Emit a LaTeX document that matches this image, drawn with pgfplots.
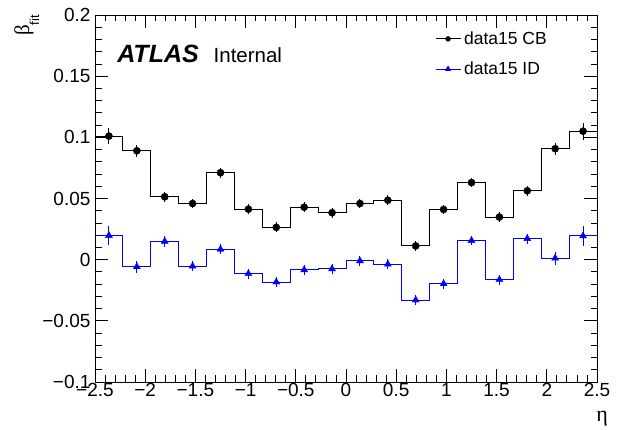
\documentclass[border=0pt]{standalone}
\usepackage{pgfplots}
\usepackage{pgfplotstable}
\pgfplotsset{compat=1.18}
\usepackage{fontspec}
\setmainfont{Liberation Sans}
\newfontfamily\grk{Liberation Serif}

% bin centres, values, errors
\pgfplotstableread{
x y e
-2.3611 0.1010 0.0065
-2.0833 0.0890 0.0050
-1.8056 0.0514 0.0042
-1.5278 0.0459 0.0040
-1.2500 0.0711 0.0040
-0.9722 0.0413 0.0040
-0.6944 0.0264 0.0040
-0.4167 0.0429 0.0040
-0.1389 0.0384 0.0040
0.1389 0.0459 0.0040
0.4167 0.0486 0.0040
0.6944 0.0112 0.0040
0.9722 0.0410 0.0040
1.2500 0.0630 0.0040
1.5278 0.0348 0.0040
1.8056 0.0563 0.0040
2.0833 0.0907 0.0050
2.3611 0.1050 0.0068
}\cbpts

\pgfplotstableread{
x y
-2.5000 0.1010
-2.2222 0.0890
-1.9444 0.0514
-1.6667 0.0459
-1.3889 0.0711
-1.1111 0.0413
-0.8333 0.0264
-0.5556 0.0429
-0.2778 0.0384
0.0000 0.0459
0.2778 0.0486
0.5556 0.0112
0.8333 0.0410
1.1111 0.0630
1.3889 0.0348
1.6667 0.0563
1.9444 0.0907
2.2222 0.1050
2.5000 0.1050
}\cbline

\pgfplotstableread{
x y e
-2.3611 0.0197 0.0080
-2.0833 -0.0058 0.0047
-1.8056 0.0150 0.0047
-1.5278 -0.0053 0.0040
-1.2500 0.0085 0.0040
-0.9722 -0.0115 0.0040
-0.6944 -0.0183 0.0040
-0.4167 -0.0083 0.0040
-0.1389 -0.0075 0.0040
0.1389 -0.0010 0.0040
0.4167 -0.0037 0.0040
0.6944 -0.0330 0.0040
0.9722 -0.0197 0.0040
1.2500 0.0156 0.0040
1.5278 -0.0164 0.0040
1.8056 0.0172 0.0040
2.0833 0.0012 0.0054
2.3611 0.0194 0.0085
}\idpts

\pgfplotstableread{
x y
-2.5000 0.0197
-2.2222 -0.0058
-1.9444 0.0150
-1.6667 -0.0053
-1.3889 0.0085
-1.1111 -0.0115
-0.8333 -0.0183
-0.5556 -0.0083
-0.2778 -0.0075
0.0000 -0.0010
0.2778 -0.0037
0.5556 -0.0330
0.8333 -0.0197
1.1111 0.0156
1.3889 -0.0164
1.6667 0.0172
1.9444 0.0012
2.2222 0.0194
2.5000 0.0194
}\idline

\begin{document}
\begin{tikzpicture}
\useasboundingbox (0,0) rectangle (624pt,430pt);
\begin{axis}[
  at={(95pt,48pt)}, anchor=south west,
  scale only axis, width=502pt, height=367pt,
  xmin=-2.5, xmax=2.5, ymin=-0.1, ymax=0.2,
  xtick={-2.5,-2,-1.5,-1,-0.5,0,0.5,1,1.5,2,2.5},
  xticklabels={−2.5,−2,−1.5,−1,−0.5,0,0.5,1,1.5,2,2.5},
  ytick={-0.1,-0.05,0,0.05,0.1,0.15,0.2},
  yticklabels={−0.1,−0.05,0,0.05,0.1,0.15,0.2},
  minor x tick num=4, minor y tick num=4,
  tick align=inside, tick pos=both,
  major tick length=13pt, minor tick length=6.5pt,
  tick style={black, line width=0.8pt},
  axis line style={line width=0.8pt},
  ticklabel style={font=\fontsize{19}{22}\selectfont},
  xticklabel style={yshift=2pt},
  yticklabel style={xshift=-1pt},
  legend style={draw=none, fill=none, at={(rel axis cs:0.677,0.963)}, anchor=north west,
    font=\fontsize{17.5}{21}\selectfont, row sep=10pt, inner sep=0pt,
    nodes={inner sep=3pt}},
  legend cell align=left,
  legend image code/.code={\draw[mark repeat=2,mark phase=2,#1] plot coordinates {(0pt,0pt) (12.5pt,0pt) (25pt,0pt)};},
]
\addlegendimage{black, line width=1pt, mark=*, mark size=2.2pt}
\addlegendentry{data15 CB}
\addlegendimage{blue, line width=1pt, mark=triangle*, mark size=2.6pt}
\addlegendentry{data15 ID}

\addplot[forget plot, const plot mark left, black, line width=1pt] table[x=x,y=y] {\cbline};
\addplot[forget plot, only marks, black, mark=*, mark size=3.6pt,
  error bars/.cd, y dir=both, y explicit, error mark=none,
  error bar style={line width=1pt}] table[x=x,y=y,y error=e] {\cbpts};

\addplot[forget plot, const plot mark left, blue, line width=1pt] table[x=x,y=y] {\idline};
\addplot[forget plot, only marks, blue, mark=triangle*, mark size=4pt,
  error bars/.cd, y dir=both, y explicit, error mark=none,
  error bar style={line width=1pt}] table[x=x,y=y,y error=e] {\idpts};

\node[anchor=base west, inner sep=0pt, font=\fontsize{25}{27}\selectfont\bfseries\itshape]
  at (rel axis cs:0.044,0.871) {ATLAS};
\node[anchor=base west, inner sep=0pt, font=\fontsize{20.5}{24}\selectfont]
  at (rel axis cs:0.236,0.871) {Internal};
\end{axis}
\node[rotate=90, anchor=base east, inner sep=0pt] at (29pt,415pt)
  {\fontsize{21}{24}\selectfont\grk β\raisebox{-10pt}{\fontsize{13}{14}\selectfont\normalfont fit}};
\node[anchor=base east, inner sep=0pt] at (608pt,8pt) {\fontsize{22}{24}\selectfont\grk η};
\end{tikzpicture}
\end{document}
